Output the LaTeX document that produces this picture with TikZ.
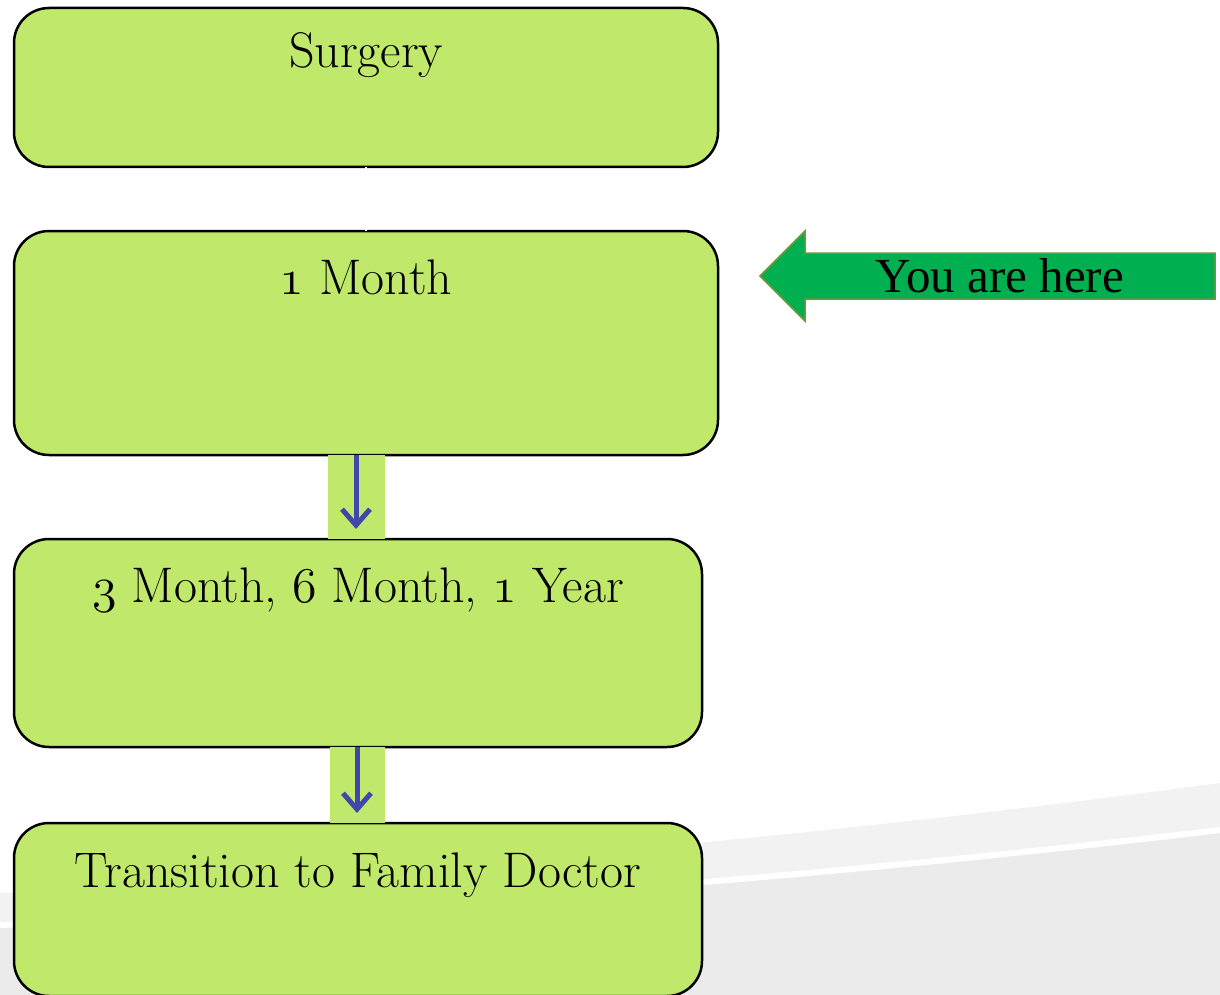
\documentclass[tikz,border=0pt]{standalone}
\usepackage{fontspec}
\usepackage{xcolor}
\usepackage{tikz}
\usetikzlibrary{positioning,arrows.meta}

\newfontfamily\herefont{Liberation Serif}
\DeclareFontFamily{OML}{osfig}{\skewchar\font127}
\DeclareFontShape{OML}{osfig}{m}{it}{<->cmmi12}{}
\newcommand\osnum[1]{{\usefont{OML}{osfig}{m}{it}#1}}

\definecolor{boxgreen}{RGB}{192,233,107}
\definecolor{flowblue}{RGB}{63,72,170}
\definecolor{heregreen}{RGB}{0,176,80}
\definecolor{hereedge}{RGB}{119,147,60}
\definecolor{bandlight}{RGB}{242,242,242}
\definecolor{banddark}{RGB}{235,235,235}

\tikzset{
  stage/.style={draw, line width=2.5pt, rounded corners=35pt, fill=boxgreen,
    inner xsep=0pt, inner ysep=0pt, outer sep=0pt, font=\fontsize{50}{60}\selectfont},
  flow/.style={draw=flowblue, line width=5pt,
    -{Straight Barb[length=16pt,width=28pt]}, shorten >=10pt},
}

\begin{document}
\begin{tikzpicture}[x=1pt,y=-1pt]
    \useasboundingbox (0,0) rectangle (1220,995);
    \clip (0,0) rectangle (1220,995);

    % background swoosh
    \fill[bandlight] (0,893) .. controls (500,868) and (900,826) .. (1220,783)
        -- (1220,995) -- (0,995) -- cycle;
    \fill[banddark] (0,925) .. controls (500,905) and (900,868) .. (1220,830)
        -- (1220,995) -- (0,995) -- cycle;
    \draw[white, line width=6pt] (0,925) .. controls (500,905) and (900,868) .. (1220,830);

    % stages
    \node[stage, minimum width=704pt, text height=60pt, text depth=99pt, anchor=north]
        (surgery) at (366,8) {Surgery};
    \node[stage, minimum width=704pt, text height=63pt, text depth=161pt]
        (month1) [below=64pt of surgery] {\osnum{1} Month};
    \node[stage, minimum width=688pt, text height=63pt, text depth=145pt]
        (month3) [below=84pt of month1, xshift=-8pt]
        {\osnum{3} Month, \osnum{6} Month, \osnum{1} Year};
    \node[stage, minimum width=688pt, text height=64pt, text depth=109pt]
        (family) [below=76pt of month3] {Transition to Family Doctor};

    % links
    \draw[white, line width=1.5pt] (surgery.south) -- (month1.north);
    \fill[boxgreen] ([xshift=-30pt]month3.north |- month1.south) rectangle ([xshift=27pt]month3.north);
    \draw[flow] ([xshift=-2pt]month3.north |- month1.south) -- ([xshift=-2pt]month3.north);
    \fill[boxgreen] ([xshift=-28pt]family.north |- month3.south) rectangle ([xshift=27pt]family.north);
    \draw[flow] ([xshift=-1pt]family.north |- month3.south) -- ([xshift=-1pt]family.north);

    % you are here
    \draw[fill=heregreen, draw=hereedge, line width=1.5pt]
        (760,276) -- (805,231) -- (805,253) -- (1215,253) -- (1215,299)
        -- (805,299) -- (805,321) -- cycle;
    \node[font=\herefont\fontsize{49}{58}\selectfont, inner sep=0pt] (here) at (1000,276) {You are here};
\end{tikzpicture}
\end{document}
